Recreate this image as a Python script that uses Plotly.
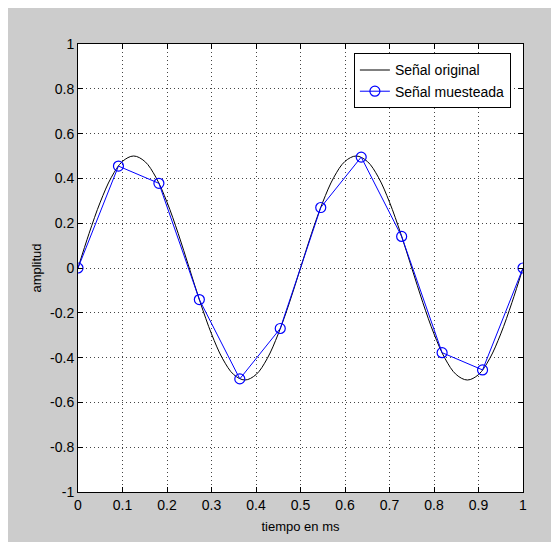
import plotly.graph_objects as go

# Original signal, t in ms
t_orig = [0.000, 0.025, 0.050, 0.075, 0.100, 0.125, 0.150, 0.175, 0.200, 0.225,
          0.250, 0.275, 0.300, 0.325, 0.350, 0.375, 0.400, 0.425, 0.450, 0.475,
          0.500, 0.525, 0.550, 0.575, 0.600, 0.625, 0.650, 0.675, 0.700, 0.725,
          0.750, 0.775, 0.800, 0.825, 0.850, 0.875, 0.900, 0.925, 0.950, 0.975, 1.000]
y_orig = [0.000, 0.155, 0.294, 0.405, 0.476, 0.500, 0.476, 0.405, 0.294, 0.155,
          0.000, -0.155, -0.294, -0.405, -0.476, -0.500, -0.476, -0.405, -0.294, -0.155,
          0.000, 0.155, 0.294, 0.405, 0.476, 0.500, 0.476, 0.405, 0.294, 0.155,
          0.000, -0.155, -0.294, -0.405, -0.476, -0.500, -0.476, -0.405, -0.294, -0.155, 0.000]

# Sampled signal
t_samp = [0.0, 0.0909, 0.1818, 0.2727, 0.3636, 0.4545, 0.5455, 0.6364, 0.7273, 0.8182, 0.9091, 1.0]
y_samp = [0.0, 0.455, 0.378, -0.141, -0.495, -0.270, 0.270, 0.495, 0.141, -0.378, -0.455, 0.0]

x_ticks = [0, 0.1, 0.2, 0.3, 0.4, 0.5, 0.6, 0.7, 0.8, 0.9, 1]
x_ticklabels = ["0", "0.1", "0.2", "0.3", "0.4", "0.5", "0.6", "0.7", "0.8", "0.9", "1"]
y_ticks = [-1, -0.8, -0.6, -0.4, -0.2, 0, 0.2, 0.4, 0.6, 0.8, 1]
y_ticklabels = ["-1", "-0.8", "-0.6", "-0.4", "-0.2", "0", "0.2", "0.4", "0.6", "0.8", "1"]

FONT = "Liberation Sans Narrow, Arial Narrow, Liberation Sans, Arial, sans-serif"

fig = go.Figure()
fig.add_trace(go.Scatter(x=t_orig, y=y_orig, mode="lines", name="Señal original",
                         line=dict(color="black", width=1, shape="spline")))
fig.add_trace(go.Scatter(x=t_samp, y=y_samp, mode="lines+markers", name="Señal muesteada",
                         line=dict(color="#0000ff", width=1),
                         marker=dict(symbol="circle-open", size=10, color="#0000ff",
                                     line=dict(width=1.2, color="#0000ff"))))

axis_common = dict(showline=True, linecolor="black", linewidth=1, mirror="ticks",
                   ticks="inside", ticklen=5, tickcolor="black",
                   showgrid=True, gridcolor="#444444", gridwidth=1, griddash="1px,3px",
                   zeroline=False, automargin=False,
                   tickfont=dict(family=FONT, size=14, color="black"))

fig.update_layout(
    width=551, height=534,
    margin=dict(l=70, r=36, t=36, b=50),
    paper_bgcolor="#cccccc", plot_bgcolor="white",
    font=dict(family=FONT, size=13, color="black"),
    xaxis=dict(range=[0, 1], tickvals=x_ticks, ticktext=x_ticklabels,
               title=dict(text="tiempo en ms", standoff=10, font=dict(size=13)), **axis_common),
    yaxis=dict(range=[-1, 1], tickvals=y_ticks, ticktext=y_ticklabels,
               title=dict(text="amplitud", standoff=5, font=dict(size=13)), **axis_common),
    legend=dict(x=0.62, y=0.979, xanchor="left", yanchor="top",
                bgcolor="white", bordercolor="black", borderwidth=1,
                font=dict(family=FONT, size=14), tracegroupgap=0),
    showlegend=True,
)

fig.write_html("out.html")
